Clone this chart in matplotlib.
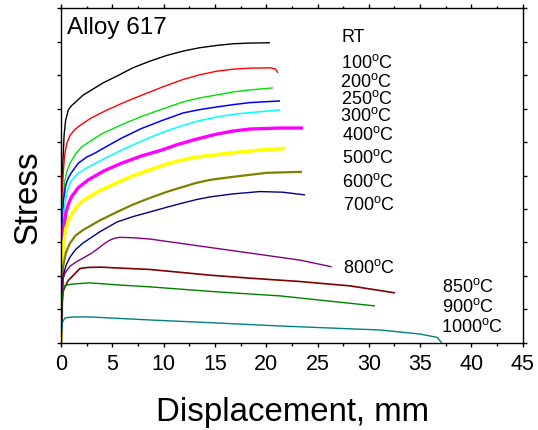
import matplotlib
matplotlib.use("Agg")
import matplotlib.pyplot as plt
from matplotlib.ticker import MultipleLocator

plt.rcParams['font.family'] = ['Liberation Sans', 'DejaVu Sans']
plt.rcParams['mathtext.fontset'] = 'custom'
plt.rcParams['mathtext.rm'] = 'Liberation Sans'

# curves: displacement (mm) vs stress (arbitrary units)
rt_x = [0, 0.05, 0.15, 0.3, 0.45, 0.71, 1.0, 1.36, 2.14, 2.99, 4.1, 5.43, 7.0, 8.67, 10.3, 11.89,
        13.5, 15.18, 16.8, 18.42, 20.37]
rt_y = [0, 2.78, 5.16, 6.2, 6.65, 6.96, 7.08, 7.18, 7.40, 7.56, 7.77, 7.97, 8.22, 8.42, 8.59, 8.72,
        8.82, 8.89, 8.94, 8.96, 8.97]

t100_x = [0, 0.05, 0.13, 0.2, 0.35, 0.55, 0.88, 1.3, 1.69, 2.83, 4.29, 6.24, 8.19, 10.0, 11.89,
          13.5, 15.2, 16.8, 18.42, 20.37, 20.86, 21.15]
t100_y = [0, 2.48, 4.56, 5.0, 5.6, 5.95, 6.2, 6.36, 6.46, 6.70, 6.93, 7.2, 7.44, 7.66, 7.87,
          8.01, 8.12, 8.18, 8.21, 8.22, 8.19, 8.07]

t200_x = [0, 0.08, 0.19, 0.35, 0.55, 0.85, 1.36, 2.0, 2.63, 4.0, 5.92, 7.8, 9.81, 11.89, 13.5,
          15.2, 16.8, 18.42, 20.66]
t200_y = [0, 2.48, 4.26, 4.8, 5.1, 5.35, 5.62, 5.85, 5.98, 6.25, 6.52, 6.76, 6.98, 7.2, 7.32,
          7.41, 7.5, 7.56, 7.62]

t250_x = [0, 0.10, 0.24, 0.45, 0.7, 1.0, 1.69, 2.5, 3.31, 4.5, 5.92, 7.8, 9.81, 11.89, 13.5,
          15.2, 16.8, 18.42, 21.35]
t250_y = [0, 2.77, 4.26, 4.7, 4.92, 5.08, 5.37, 5.55, 5.67, 5.88, 6.12, 6.40, 6.64, 6.87, 6.97,
          7.05, 7.12, 7.18, 7.23]

t300_x = [0, 0.10, 0.29, 0.58, 0.88, 1.2, 1.69, 2.6, 3.64, 4.7, 5.92, 7.8, 9.81, 11.89, 13.5,
          15.2, 16.8, 18.42, 21.35]
t300_y = [0, 2.48, 3.97, 4.51, 4.78, 4.92, 5.07, 5.24, 5.41, 5.58, 5.76, 6.02, 6.28, 6.50, 6.64,
          6.75, 6.83, 6.88, 6.96]

t400_x = [0, 0.10, 0.19, 0.49, 0.75, 1.04, 1.7, 2.66, 4.2, 5.92, 7.8, 9.81, 11.3, 12.87, 15.2,
          16.8, 18.42, 21.35, 23.59]
t400_y = [0, 2.17, 3.31, 3.91, 4.17, 4.37, 4.64, 4.87, 5.14, 5.37, 5.58, 5.76, 5.92, 6.06, 6.24,
          6.33, 6.39, 6.42, 6.42]

t500_x = [0, 0.10, 0.19, 0.49, 0.88, 1.5, 2.24, 3.8, 5.46, 7.0, 8.67, 10.3, 11.89, 13.2, 14.52,
          16.76, 19.4, 21.83]
t500_y = [0, 1.58, 2.86, 3.43, 3.76, 4.05, 4.27, 4.55, 4.78, 4.99, 5.17, 5.34, 5.47, 5.55, 5.60,
          5.68, 5.76, 5.81]

t600_x = [0, 0.10, 0.19, 0.49, 0.88, 1.4, 2.14, 3.8, 5.46, 7.0, 8.67, 10.3, 11.89, 13.2, 14.52,
          16.76, 20.05, 23.49]
t600_y = [0, 1.28, 2.26, 2.71, 2.98, 3.2, 3.37, 3.66, 3.91, 4.13, 4.33, 4.51, 4.66, 4.78, 4.87,
          4.96, 5.08, 5.11]

t700_x = [0, 0.10, 0.19, 0.49, 0.88, 1.4, 2.14, 3.8, 5.46, 7.0, 8.67, 10.3, 11.89, 13.2, 14.52,
          16.76, 19.4, 21.64, 23.78]
t700_y = [0, 0.98, 1.96, 2.32, 2.56, 2.78, 2.98, 3.32, 3.61, 3.77, 3.91, 4.05, 4.18, 4.28, 4.36,
          4.45, 4.52, 4.50, 4.42]

t800_x = [0, 0.08, 0.15, 0.39, 0.88, 1.5, 2.14, 3.0, 3.80, 4.3, 4.78, 5.3, 5.75, 7.0, 8.67,
          13.55, 18.42, 23.29, 26.38]
t800_y = [0, 1.28, 1.87, 2.08, 2.29, 2.42, 2.53, 2.68, 2.86, 2.98, 3.07, 3.13, 3.15, 3.14, 3.10,
          2.89, 2.68, 2.47, 2.27]

t850_x = [0, 0.05, 0.19, 0.39, 0.68, 1.85, 2.6, 3.80, 8.67, 14.52, 18.42, 23.29, 28.17, 32.55]
t850_y = [0, 0.98, 1.52, 1.67, 1.85, 2.22, 2.25, 2.26, 2.19, 2.02, 1.93, 1.83, 1.70, 1.49]

t900_x = [0, 0.05, 0.15, 0.39, 0.8, 1.36, 2.83, 5.46, 8.67, 15.2, 21.35, 30.6]
t900_y = [0, 0.98, 1.49, 1.71, 1.74, 1.76, 1.79, 1.73, 1.67, 1.52, 1.40, 1.10]

t1000_x = [0, 0.05, 0.15, 0.39, 0.8, 1.36, 2.83, 8.67, 15.2, 21.35, 31.1, 34.99, 36.65, 37.1]
t1000_y = [0, 0.29, 0.62, 0.74, 0.76, 0.77, 0.77, 0.68, 0.59, 0.50, 0.38, 0.26, 0.16, 0.0]

temps = ['RT', '100', '200', '250', '300', '400', '500', '600', '700', '800', '850', '900', '1000']
series = [(rt_x, rt_y), (t100_x, t100_y), (t200_x, t200_y), (t250_x, t250_y), (t300_x, t300_y),
          (t400_x, t400_y), (t500_x, t500_y), (t600_x, t600_y), (t700_x, t700_y), (t800_x, t800_y),
          (t850_x, t850_y), (t900_x, t900_y), (t1000_x, t1000_y)]
colors = ['#000000', '#FF0000', '#00E000', '#0000FF', '#00FFFF', '#FF00FF', '#FFFF00',
          '#808000', '#000080', '#800080', '#800000', '#008000', '#008080']
widths = [1.0, 1.0, 1.0, 1.1, 1.1, 2.4, 2.6, 1.6, 1.0, 1.0, 1.2, 1.0, 1.0]

# label anchors (left edge, baseline) in data units
label_x = [27.3, 27.3, 27.2, 27.3, 27.2, 27.4, 27.4, 27.4, 27.5, 27.5, 37.1, 37.1, 37.0]
label_y = [8.99, 8.21, 7.64, 7.14, 6.64, 6.06, 5.36, 4.65, 3.97, 2.08, 1.53, 0.93, 0.33]

fig = plt.figure(figsize=(5.38, 4.30), dpi=100)
ax = fig.add_axes([0.1134, 0.2030, 0.8582, 0.7777])

for (x, y), c, lw in zip(series, colors, widths):
    ax.plot(x, y, color=c, lw=lw, solid_joinstyle='round', solid_capstyle='butt')

for t, lx, ly in zip(temps, label_x, label_y):
    txt = t if t == 'RT' else t + r'$^{\mathrm{o}}$C'
    ax.text(lx, ly, txt, fontsize=13, va='baseline', ha='left')

ax.text(0.6, 9.22, 'Alloy 617', fontsize=17.5, va='baseline', ha='left')

ax.set_xlim(0, 45)
ax.set_ylim(0, 10)
ax.xaxis.set_major_locator(MultipleLocator(5))
ax.xaxis.set_minor_locator(MultipleLocator(2.5))
ax.yaxis.set_major_locator(MultipleLocator(1))
ax.tick_params(which='both', direction='out', top=True, right=True, labelleft=False,
               width=1.0)
ax.tick_params(which='major', length=3, labelsize=15.5, pad=5)
ax.tick_params(which='minor', length=1.8)
for s in ax.spines.values():
    s.set_linewidth(1.0)

fig.text(292 / 538, 1 - 421 / 430, 'Displacement, mm', fontsize=23.8, ha='center', va='baseline')
fig.text(28 / 538, 1 - 197 / 430, 'Stress', fontsize=23.8, ha='center', va='center', rotation=90)

fig.savefig('out.png', dpi=100)
